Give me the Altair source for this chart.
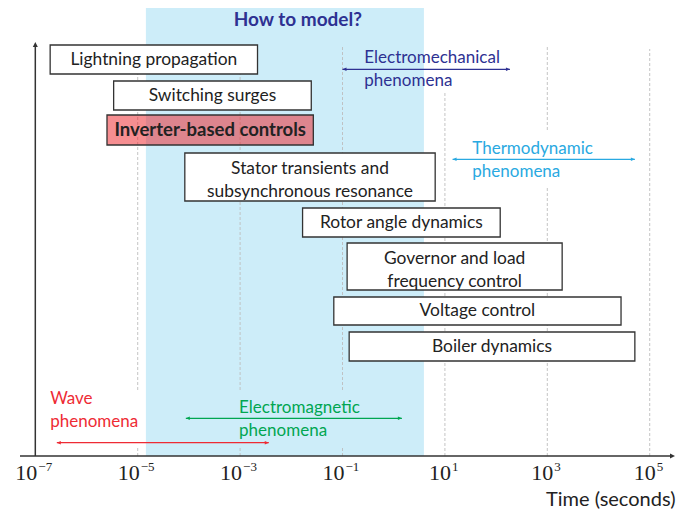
import altair as alt
import pandas as pd

# ---------------- data ----------------
process_names = [
    "Lightning propagation",
    "Switching surges",
    "Inverter-based controls",
    "Stator transients and\nsubsynchronous resonance",
    "Rotor angle dynamics",
    "Governor and load\nfrequency control",
    "Voltage control",
    "Boiler dynamics",
]
process_from_exp = [-6.71, -5.47, -5.60, -4.08, -1.78, -0.91, -1.17, -0.87]
process_to_exp = [-2.66, -1.61, -1.57, 0.81, 2.08, 3.29, 4.44, 4.71]
process_low = [382, 346, 311, 255, 219, 166, 131, 95]
process_high = [411, 375, 341, 303, 248, 213, 159, 124]
process_highlight = [False, False, True, False, False, False, False, False]

phen_names = ["Electromechanical\nphenomena", "Thermodynamic\nphenomena",
              "Electromagnetic\nphenomena", "Wave\nphenomena"]
phen_from_exp = [-1.0, 1.15, -4.06, -6.58]
phen_to_exp = [2.27, 4.71, 0.16, -2.44]
phen_level = [386.7, 296.7, 37.7, 13.3]
phen_text_exp = [-0.574, 1.535, -3.02, -6.71]
phen_text_level = [386.5, 295.5, 36.5, 45.5]
phen_colors = ["#2e3192", "#29a9e1", "#00a651", "#ee2b34"]

region_exp = [-4.84, 0.59]
region_title = "How to model?"
region_title_exp = -1.873
region_title_level = 436

tick_exps = [-7, -5, -3, -1, 1, 3, 5]
grid_exps = [-5, -5, -3, -3, -1, -1, 1, 3, 3, 5]
grid_low = [0, 66, 0, 66, 0, 66, 0, 0, 326, 0]
grid_high = [10, 411, 10, 411, 10, 411, 364, 269, 411, 407]

axis_min_exp = -7.299
axis_max_exp = 5.494
y_axis_top = 414
y_max = 448

LINE_H = 23  # line spacing of two-line labels

# ---------------- tables ----------------
boxes = pd.DataFrame({
    "name": process_names,
    "t0": [10 ** e for e in process_from_exp],
    "t1": [10 ** e for e in process_to_exp],
    "tm": [10 ** ((a + b) / 2) for a, b in zip(process_from_exp, process_to_exp)],
    "lo": process_low, "hi": process_high,
    "ym": [(a + b) / 2 + (n.count("\n")) * (LINE_H / 2 - 3.5)
           for a, b, n in zip(process_low, process_high, process_names)],
    "highlight": process_highlight,
})
phen = pd.DataFrame({
    "name": phen_names,
    "t0": [10 ** e for e in phen_from_exp],
    "t1": [10 ** e for e in phen_to_exp],
    "tt": [10 ** e for e in phen_text_exp],
    "y": phen_level,
    "yt": [v + n.count("\n") * LINE_H / 2 for v, n in zip(phen_text_level, phen_names)],
})
region = pd.DataFrame({"t0": [10 ** region_exp[0]], "t1": [10 ** region_exp[1]],
                       "lo": [0], "hi": [y_max]})
title_df = pd.DataFrame({"t": [10 ** region_title_exp], "y": [region_title_level],
                         "label": [region_title]})
grid = pd.DataFrame({"t": [10.0 ** e for e in grid_exps], "lo": grid_low, "hi": grid_high})
ticks = pd.DataFrame({
    "t": [10.0 ** e for e in tick_exps],
    "base": ["10"] * len(tick_exps),
    "sup": [str(e).replace("-", "\u2212") for e in tick_exps],
    "neg": [e < 0 for e in tick_exps],
})
xaxis_df = pd.DataFrame({"t0": [10 ** axis_min_exp], "t1": [10 ** (axis_max_exp - 0.08)],
                         "tip": [10 ** axis_max_exp], "y": [0]})
yaxis_df = pd.DataFrame({"t": [1e-7], "lo": [0], "hi": [y_axis_top - 4], "tip": [y_axis_top]})

SANS = "Lato"
SERIF = "Liberation Serif"

xs = alt.Scale(type="log", domain=[10 ** axis_min_exp, 10 ** axis_max_exp], nice=False)
ys = alt.Scale(domain=[0, y_max], nice=False, zero=False)
xaxis = alt.Axis(domain=False, ticks=False, labels=False, grid=False,
                 title="Time (seconds)", titleAnchor="end", titleFont=SANS,
                 titleFontSize=20, titleFontWeight="normal", titleColor="#222222",
                 titleBaseline="alphabetic", titlePadding=49)


def X(f):
    return alt.X(f, type="quantitative", scale=xs, axis=xaxis)


def Y(f):
    return alt.Y(f, type="quantitative", scale=ys, axis=None)


region_layer = alt.Chart(region).mark_rect(fill="#cdedf9").encode(
    x=X("t0"), x2="t1", y=Y("lo"), y2="hi")

title_layer = alt.Chart(title_df).mark_text(
    font=SANS, fontSize=19, fontWeight="bold", color="#2e3192", baseline="middle"
).encode(x=X("t"), y=Y("y"), text="label:N")

grid_layer = alt.Chart(grid).mark_rule(color="#bdbdbd", strokeWidth=0.9, strokeDash=[3, 2]).encode(
    x=X("t"), y=Y("lo"), y2="hi")

xline = alt.Chart(xaxis_df).mark_rule(color="#333333", strokeWidth=1.5).encode(
    x=X("t0"), x2="t1", y=Y("y"))
xarrow = alt.Chart(xaxis_df).mark_point(
    shape="M0,0L-1,-0.5L-1,0.5Z", filled=True, size=100, color="#333333", opacity=1
).encode(x=X("tip"), y=Y("y"))
yline = alt.Chart(yaxis_df).mark_rule(color="#333333", strokeWidth=1.5).encode(
    x=X("t"), y=Y("lo"), y2="hi")
yarrow = alt.Chart(yaxis_df).mark_point(
    shape="M0,0L-0.5,1L0.5,1Z", filled=True, size=100, color="#333333", opacity=1
).encode(x=X("t"), y=Y("tip"))

pcolor = alt.Color("name:N", scale=alt.Scale(domain=phen_names, range=phen_colors), legend=None)
phen_line = alt.Chart(phen).mark_rule(strokeWidth=1.3).encode(
    x=X("t0"), x2="t1", y=Y("y"), color=pcolor)
phen_left = alt.Chart(phen).mark_point(
    shape="M0,0L1,-0.42L1,0.42Z", filled=True, size=64, opacity=1
).encode(x=X("t0"), y=Y("y"), color=pcolor)
phen_right = alt.Chart(phen).mark_point(
    shape="M0,0L-1,-0.42L-1,0.42Z", filled=True, size=64, opacity=1
).encode(x=X("t1"), y=Y("y"), color=pcolor)
phen_text = alt.Chart(phen).mark_text(
    font=SANS, fontSize=17, align="left", baseline="middle", lineBreak="\n", lineHeight=LINE_H
).encode(x=X("tt"), y=Y("yt"), text="name:N", color=pcolor)

box_layer = alt.Chart(boxes).mark_rect(stroke="#333333", strokeWidth=1.3).encode(
    x=X("t0"), x2="t1", y=Y("lo"), y2="hi",
    fill=alt.condition("datum.highlight", alt.value("#ee1d24"), alt.value("white")),
    fillOpacity=alt.condition("datum.highlight", alt.value(0.5), alt.value(1.0)),
)
box_text = alt.Chart(boxes).transform_filter("!datum.highlight").mark_text(
    font=SANS, fontSize=17.4, color="#222222", baseline="middle", lineBreak="\n", lineHeight=LINE_H
).encode(x=X("tm"), y=Y("ym"), text="name:N")
box_text_bold = alt.Chart(boxes).transform_filter("datum.highlight").mark_text(
    font=SANS, fontSize=18.5, fontWeight="bold", color="#222222", baseline="middle"
).encode(x=X("tm"), y=Y("ym"), text="name:N")

lab_base_neg = alt.Chart(ticks).transform_filter("datum.neg").mark_text(
    font=SERIF, fontSize=22, color="#222222", align="right", baseline="alphabetic", dx=2
).encode(x=X("t"), y=alt.Y(datum=-23.5, scale=ys, axis=None), text="base:N")
lab_sup_neg = alt.Chart(ticks).transform_filter("datum.neg").mark_text(
    font=SERIF, fontSize=13, color="#222222", align="left", baseline="alphabetic", dx=3
).encode(x=X("t"), y=alt.Y(datum=-14.7, scale=ys, axis=None), text="sup:N")
lab_base_pos = alt.Chart(ticks).transform_filter("!datum.neg").mark_text(
    font=SERIF, fontSize=22, color="#222222", align="right", baseline="alphabetic", dx=6
).encode(x=X("t"), y=alt.Y(datum=-23.5, scale=ys, axis=None), text="base:N")
lab_sup_pos = alt.Chart(ticks).transform_filter("!datum.neg").mark_text(
    font=SERIF, fontSize=13, color="#222222", align="left", baseline="alphabetic", dx=7
).encode(x=X("t"), y=alt.Y(datum=-14.7, scale=ys, axis=None), text="sup:N")

chart = alt.layer(
    region_layer, grid_layer, title_layer, xline, xarrow, yline, yarrow,
    phen_line, phen_left, phen_right, phen_text,
    box_layer, box_text, box_text_bold,
    lab_base_neg, lab_sup_neg, lab_base_pos, lab_sup_pos,
).properties(
    width=655, height=448,
    padding={"left": 12, "top": 0, "right": 6, "bottom": 55},
    autosize=alt.AutoSizeParams(type="none"),
).configure_view(stroke=None)

chart.save("out.html", embed_options={"renderer": "svg", "actions": False})
